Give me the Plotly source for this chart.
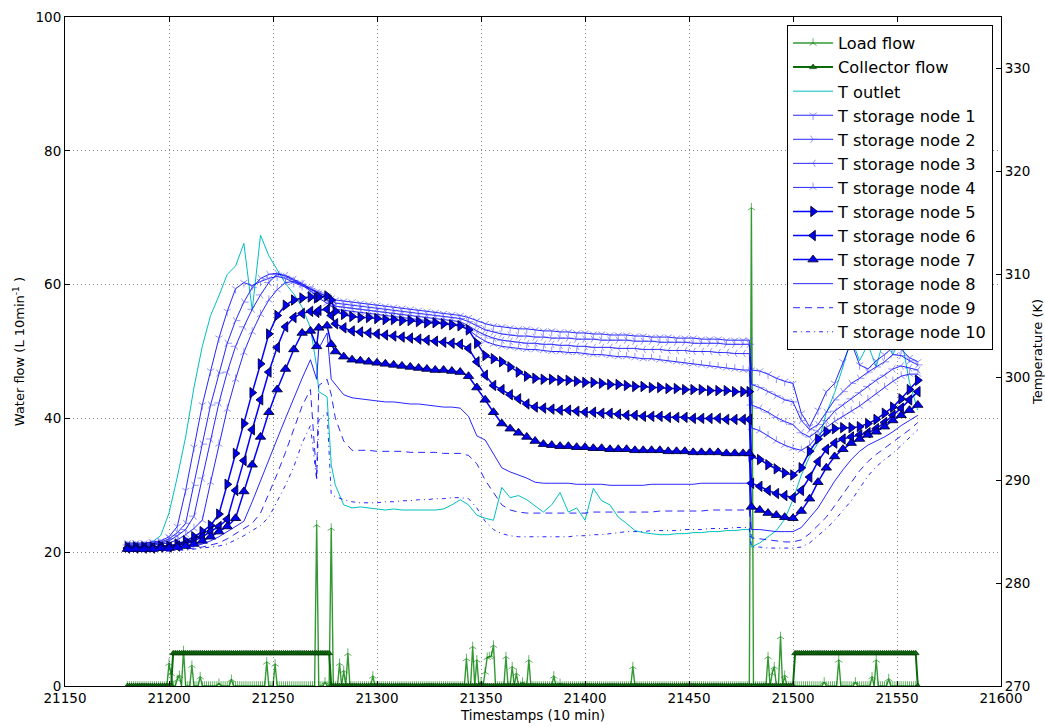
import plotly.graph_objects as go

# ---------------- data ----------------
ts = [21180, 21184, 21188, 21192, 21196, 21200, 21204, 21208, 21212, 21216,
      21220, 21224, 21228, 21232, 21236, 21240, 21244, 21248, 21252, 21256,
      21260, 21264, 21268, 21271, 21272, 21276, 21278,
      21280, 21284, 21288, 21292, 21296, 21300, 21304, 21308, 21312, 21316,
      21320, 21324, 21328, 21332, 21336, 21340, 21344, 21348, 21352, 21356,
      21360, 21364, 21368, 21372, 21376, 21380, 21384, 21388, 21392, 21396,
      21400, 21404, 21408, 21412, 21416, 21420, 21424, 21428, 21432, 21436,
      21440, 21444, 21448, 21452, 21456, 21460, 21464, 21468, 21472, 21476,
      21479, 21480, 21484, 21488, 21492, 21496, 21500, 21504, 21508, 21512,
      21516, 21520, 21524, 21528, 21532, 21536, 21540, 21544, 21548, 21552,
      21556, 21560]

t_outlet = [283.6, 283.7, 283.8, 284.0, 284.6, 286.8, 290.3, 294.2, 299.0, 303.0, 306.0, 307.9, 310.0, 310.8, 313.0, 306.5, 313.8, 311.8, 310.5, 309.1, 308.1, 306.8, 304.8, 301.0, 298.6, 298.1, 291.5,
            289.5, 287.6, 287.3, 287.4, 287.3, 287.2, 287.1, 287.2, 287.1, 287.1, 287.1, 287.1, 287.1, 287.2, 287.6, 288.1, 287.6, 286.6, 286.3, 286.1,
            289.3, 288.3, 288.5, 288.1, 287.5, 286.9, 287.6, 288.8, 286.9, 287.3, 286.1, 289.2, 288.0, 287.6, 286.4, 285.8, 285.1, 284.9, 284.8, 284.7,
            284.7, 284.8, 284.8, 284.9, 284.9, 285.0, 285.0, 285.1, 285.1, 285.2,
            285.2, 283.5, 283.9, 284.5, 285.1, 286.2, 288.1, 290.5, 292.3, 293.6, 296.5, 298.5, 301.0, 303.8, 301.6, 303.2, 301.0, 304.0, 302.2, 303.9, 299.5, 296.8]

node1 = [283.9, 283.9, 283.9, 284.0, 284.1, 284.5, 285.5, 289.0, 293.2, 297.3, 300.6, 303.8, 306.4, 308.6, 309.2, 308.9, 309.3, 309.6, 309.8, 309.6, 309.2, 308.9, 308.6, 308.3, 308.2, 307.9, 307.7,
         307.5, 307.4, 307.3, 307.2, 307.1, 307.0, 306.9, 306.8, 306.7, 306.6, 306.5, 306.4, 306.3, 306.2, 306.1, 306.0, 305.8, 305.5, 305.2, 305.0,
         304.9, 304.8, 304.7, 304.7, 304.6, 304.5, 304.5, 304.4, 304.4, 304.3, 304.3, 304.2, 304.2, 304.1, 304.1, 304.1, 304.0, 304.0, 303.9, 303.9,
         303.9, 303.8, 303.8, 303.8, 303.7, 303.7, 303.7, 303.6, 303.6, 303.6,
         303.6, 300.7, 300.6, 300.3, 299.9, 299.6, 299.4, 296.5, 295.2, 296.8, 298.6, 299.4, 301.5, 303.4, 301.2, 300.8, 301.6, 302.2, 302.9, 302.7, 301.9, 301.5]

node2 = [283.8, 283.8, 283.8, 283.9, 284.0, 284.3, 284.9, 285.8, 289.5, 293.5, 297.3, 300.4, 303.3, 305.5, 307.3, 308.7, 309.6, 310.0, 310.1, 309.8, 309.4, 309.0, 308.6, 308.3, 308.2, 307.8, 307.5,
         307.2, 307.1, 307.0, 306.9, 306.8, 306.7, 306.6, 306.5, 306.4, 306.3, 306.2, 306.1, 306.0, 305.9, 305.8, 305.7, 305.4, 305.0, 304.6, 304.4,
         304.2, 304.1, 304.0, 304.0, 303.9, 303.9, 303.8, 303.8, 303.8, 303.7, 303.7, 303.7, 303.6, 303.6, 303.6, 303.6, 303.5, 303.5, 303.5, 303.4,
         303.4, 303.4, 303.4, 303.3, 303.3, 303.3, 303.3, 303.2, 303.2, 303.2,
         303.2, 299.3, 299.0, 298.6, 298.2, 297.8, 297.6, 295.8, 294.9, 295.4, 296.6, 297.8, 298.6, 299.4, 299.9, 300.5, 301.0, 301.5, 302.2, 302.1, 301.6, 301.2]

node3 = [283.7, 283.7, 283.7, 283.8, 283.9, 284.1, 284.6, 285.2, 286.5, 290.2, 294.0, 297.5, 300.5, 303.0, 304.9, 306.6, 308.0, 309.2, 310.0, 309.9, 309.5, 309.1, 308.6, 308.1, 308.0, 307.5, 307.2,
         306.9, 306.8, 306.7, 306.6, 306.5, 306.4, 306.3, 306.2, 306.1, 306.0, 305.9, 305.8, 305.7, 305.6, 305.5, 305.4, 305.0, 304.5, 304.1, 303.8,
         303.6, 303.5, 303.4, 303.3, 303.3, 303.2, 303.2, 303.1, 303.1, 303.0, 303.0, 302.9, 302.9, 302.9, 302.8, 302.8, 302.8, 302.7, 302.7, 302.7,
         302.6, 302.6, 302.6, 302.5, 302.5, 302.5, 302.4, 302.4, 302.3, 302.3,
         302.3, 297.3, 297.0, 296.6, 296.1, 295.7, 295.4, 294.6, 294.2, 294.8, 295.8, 296.7, 297.3, 297.9, 298.5, 299.1, 299.7, 300.2, 300.8, 301.1, 300.9, 300.7]

node4 = [283.6, 283.6, 283.6, 283.7, 283.8, 283.9, 284.2, 284.7, 285.3, 286.1, 289.8, 293.5, 296.9, 299.8, 302.4, 304.4, 306.1, 307.5, 308.5, 309.2, 309.3, 309.0, 308.4, 307.9, 307.7, 307.2, 306.9,
         306.6, 306.5, 306.4, 306.3, 306.2, 306.1, 306.0, 305.9, 305.8, 305.7, 305.6, 305.5, 305.4, 305.3, 305.2, 305.1, 304.6, 304.0, 303.5, 303.2,
         303.0, 302.9, 302.8, 302.7, 302.7, 302.6, 302.5, 302.5, 302.4, 302.4, 302.3, 302.2, 302.2, 302.1, 302.0, 302.0, 301.9, 301.8, 301.8, 301.7,
         301.6, 301.5, 301.4, 301.3, 301.2, 301.1, 301.0, 300.9, 300.8, 300.7,
         300.7, 295.1, 294.8, 294.3, 293.8, 293.4, 293.1, 292.9, 293.4, 294.3, 295.1, 295.7, 296.2, 296.7, 297.2, 297.8, 298.4, 299.0, 299.6, 300.1, 300.3, 300.3]

node5 = [283.5, 283.5, 283.5, 283.5, 283.6, 283.6, 283.8, 284.1, 284.5, 285.0, 285.6, 286.7, 289.6, 292.6, 295.5, 298.5, 301.3, 304.2, 306.0, 307.0, 307.5, 307.7, 307.8, 307.7, 307.8, 307.9, 307.5,
         306.4, 306.1, 305.9, 305.8, 305.8, 305.7, 305.6, 305.6, 305.5, 305.5, 305.4, 305.3, 305.3, 305.2, 305.1, 305.0, 304.6, 303.3, 302.1, 301.8,
         301.5, 301.0, 300.5, 300.1, 299.9, 299.8, 299.8, 299.7, 299.7, 299.6, 299.5, 299.5, 299.4, 299.3, 299.3, 299.2, 299.1, 299.1, 299.0, 299.0,
         298.9, 298.9, 298.8, 298.8, 298.8, 298.7, 298.7, 298.7, 298.6, 298.6,
         298.6, 292.3, 292.0, 291.5, 291.1, 290.7, 290.5, 291.2, 292.8, 294.0, 294.7, 295.0, 295.1, 295.1, 295.2, 295.5, 295.9, 296.5, 297.1, 297.9, 298.8, 299.7]

node6 = [283.4, 283.4, 283.4, 283.4, 283.5, 283.5, 283.6, 283.8, 284.1, 284.5, 285.0, 285.5, 286.2, 289.0, 291.9, 294.9, 297.8, 300.5, 302.9, 304.9, 305.8, 306.2, 306.4, 306.3, 306.5, 306.6, 306.0,
         305.2, 304.8, 304.5, 304.4, 304.3, 304.2, 304.1, 304.0, 303.9, 303.8, 303.7, 303.6, 303.5, 303.4, 303.3, 303.2, 302.8, 301.5, 300.2, 299.2,
         298.8, 298.3, 297.9, 297.4, 297.1, 297.0, 296.9, 296.8, 296.8, 296.7, 296.6, 296.6, 296.5, 296.5, 296.4, 296.3, 296.3, 296.2, 296.2, 296.2,
         296.1, 296.1, 296.1, 296.0, 296.0, 296.0, 296.0, 295.9, 295.9, 295.9,
         295.9, 289.7, 289.4, 289.0, 288.7, 288.5, 288.3, 289.0, 290.3, 291.8, 293.0, 293.6, 294.0, 294.2, 294.4, 294.6, 295.0, 295.6, 296.3, 297.0, 297.8, 298.6]

node7 = [283.3, 283.3, 283.3, 283.3, 283.4, 283.4, 283.5, 283.6, 283.8, 284.1, 284.5, 285.0, 285.5, 286.3, 288.9, 291.5, 294.2, 296.6, 298.8, 300.8, 302.7, 304.3, 304.5, 303.0, 304.8, 305.0, 303.2,
         302.5, 302.0, 301.7, 301.6, 301.5, 301.4, 301.3, 301.2, 301.1, 301.0, 300.9, 300.8, 300.7, 300.7, 300.6, 300.5, 300.1, 299.0, 297.8, 296.6,
         295.5, 295.0, 294.6, 294.2, 293.8, 293.5, 293.4, 293.3, 293.3, 293.2, 293.2, 293.1, 293.1, 293.0, 293.0, 293.0, 292.9, 292.9, 292.9, 292.9,
         292.8, 292.8, 292.8, 292.7, 292.7, 292.7, 292.7, 292.6, 292.6, 292.6,
         292.6, 287.4, 287.1, 286.8, 286.6, 286.4, 286.3, 287.0, 288.2, 289.8, 291.2, 292.3, 293.0, 293.6, 294.0, 294.4, 294.7, 295.2, 295.8, 296.3, 296.8, 297.3]

node8 = [283.3, 283.3, 283.3, 283.3, 283.3, 283.3, 283.4, 283.5, 283.6, 283.8, 284.1, 284.5, 285.0, 285.5, 286.0, 287.9, 290.0, 292.0, 294.0, 296.0, 298.0, 299.9, 301.7, 299.8, 302.8, 304.3, 299.8,
         299.3, 298.3, 298.0, 297.9, 297.8, 297.7, 297.6, 297.6, 297.5, 297.4, 297.4, 297.3, 297.2, 297.1, 297.1, 297.0, 296.2, 294.3, 293.9, 292.5,
         291.2, 290.8, 290.5, 290.2, 289.8, 289.7, 289.7, 289.7, 289.7, 289.6, 289.6, 289.6, 289.6, 289.5, 289.5, 289.5, 289.5, 289.5, 289.6, 289.6,
         289.6, 289.6, 289.6, 289.6, 289.7, 289.7, 289.7, 289.7, 289.7, 289.7,
         289.7, 285.2, 285.2, 285.1, 285.0, 285.0, 285.0, 285.4, 286.3, 287.3, 288.6, 289.9, 291.0, 292.0, 292.8, 293.4, 293.8, 294.2, 294.7, 295.3, 295.8, 296.3]

node9 = [283.2, 283.2, 283.2, 283.2, 283.2, 283.2, 283.3, 283.3, 283.4, 283.5, 283.7, 283.9, 284.3, 284.8, 285.3, 285.8, 286.8, 288.7, 290.6, 292.7, 295.0, 297.2, 298.8, 290.2, 299.2, 299.8, 298.3,
         296.0, 293.8, 292.9, 292.9, 292.9, 292.8, 292.8, 292.8, 292.8, 292.7, 292.7, 292.7, 292.7, 292.6, 292.6, 292.6, 292.4, 291.6, 290.0, 288.8,
         287.6, 287.1, 286.9, 286.8, 286.8, 286.8, 286.8, 286.8, 286.8, 286.8, 286.8, 286.9, 286.9, 286.9, 286.9, 286.9, 286.9, 286.9, 286.9, 287.0,
         287.0, 287.0, 287.0, 287.0, 287.0, 287.1, 287.1, 287.1, 287.1, 287.1,
         287.1, 284.4, 284.3, 284.2, 284.1, 284.0, 284.0, 284.2, 284.8, 285.6, 286.4, 287.5, 288.6, 289.8, 290.9, 291.8, 292.5, 293.1, 293.7, 294.3, 294.9, 295.6]

node10 = [283.1, 283.1, 283.1, 283.1, 283.1, 283.1, 283.2, 283.2, 283.3, 283.4, 283.5, 283.6, 283.8, 284.2, 284.6, 285.1, 285.6, 286.4, 287.9, 289.5, 291.3, 293.6, 295.3, 290.0, 295.8, 296.6, 288.6,
          288.4, 288.1, 287.9, 287.8, 287.8, 287.8, 287.9, 287.9, 288.0, 288.0, 288.1, 288.1, 288.2, 288.2, 288.3, 288.3, 288.2, 287.3, 286.0, 285.2,
          284.8, 284.6, 284.5, 284.5, 284.5, 284.5, 284.5, 284.5, 284.5, 284.6, 284.6, 284.7, 284.7, 284.8, 284.9, 285.0, 285.0, 285.0, 285.1, 285.1,
          285.1, 285.1, 285.2, 285.2, 285.2, 285.3, 285.3, 285.3, 285.4, 285.4,
          285.4, 283.5, 283.5, 283.4, 283.4, 283.4, 283.4, 283.5, 283.9, 284.6, 285.3, 286.1, 287.0, 288.0, 289.2, 290.4, 291.3, 292.0, 292.6, 293.4, 294.2, 294.9]

# water flows on a 1-step timestamp grid: load flow is zero except these spikes
flow_start, flow_end = 21180, 21560
load_spike_ts = [21200, 21201, 21204, 21205, 21207, 21211, 21215, 21224, 21230, 21247,
                 21251, 21271, 21275, 21278, 21282, 21284, 21286, 21298, 21343, 21346,
                 21348, 21350, 21352, 21353, 21354, 21355, 21356, 21362, 21365, 21367,
                 21370, 21373, 21385, 21388, 21423, 21480, 21488, 21490, 21491, 21494,
                 21496, 21515, 21522, 21530, 21538, 21540, 21546]
load_spike_vals = [3.4, 1.9, 1.0, 1.6, 5.3, 3.1, 1.4, 0.4, 1.0, 3.6,
                   3.3, 24.1, 0.6, 23.6, 3.4, 2.3, 4.9, 1.5, 4.1, 5.9,
                   3.9, 0.6, 2.1, 4.3, 4.4, 4.5, 6.1, 4.4, 2.9, 1.9,
                   0.6, 3.9, 1.5, 0.4, 2.9, 71.5, 4.4, 1.9, 2.9, 7.4,
                   1.6, 0.6, 3.9, 0.6, 1.4, 3.9, 1.1]
# collector pump: on (level) during these periods, zero otherwise
collector_on = [(21202, 21277), (21501, 21559)]
collector_level = 4.9

temps = [node1, node2, node3, node4, node5, node6, node7, node8, node9, node10, t_outlet]
for s in temps:
    assert len(s) == len(ts), len(s)
assert len(load_spike_ts) == len(load_spike_vals)

flow_ts = list(range(flow_start, flow_end + 1))
load_flow = [0.0] * len(flow_ts)
for t, v in zip(load_spike_ts, load_spike_vals):
    load_flow[t - flow_start] = v
collector_flow = [collector_level if any(a <= t <= b for a, b in collector_on) else 0.0
                  for t in flow_ts]

# ---------------- figure ----------------
FONT = "DejaVu Sans"
fig = go.Figure()

fig.add_trace(go.Scatter(
    x=flow_ts, y=load_flow, name="Load flow", mode="lines+markers",
    line=dict(color="rgba(0,128,0,0.8)", width=1.4),
    marker=dict(symbol="y-up", size=6, color="rgba(0,128,0,0.6)",
                line=dict(color="rgba(0,128,0,0.6)", width=1)),
    yaxis="y"))
fig.add_trace(go.Scatter(
    x=flow_ts, y=collector_flow, name="Collector flow", mode="lines+markers",
    line=dict(color="#0b6b0b", width=2),
    marker=dict(symbol="triangle-up", size=6, color="#0d6e0d",
                line=dict(color="#033303", width=0.6)),
    yaxis="y"))

fig.add_trace(go.Scatter(
    x=ts, y=t_outlet, name="T outlet", mode="lines",
    line=dict(color="#00bfbf", width=1), yaxis="y2"))

thin_sym = ["y-down", "y-right", "y-left", "y-up"]
for i, (s, sym) in enumerate(zip([node1, node2, node3, node4], thin_sym)):
    fig.add_trace(go.Scatter(
        x=ts, y=s, name=f"T storage node {i+1}", mode="lines+markers",
        line=dict(color="rgba(0,0,255,0.85)", width=1),
        marker=dict(symbol=sym, size=6, color="rgba(80,80,255,0.6)",
                    line=dict(color="rgba(80,80,255,0.6)", width=1)),
        yaxis="y2"))

thick_sym = ["triangle-right", "triangle-left", "triangle-up"]
for i, (s, sym) in enumerate(zip([node5, node6, node7], thick_sym)):
    fig.add_trace(go.Scatter(
        x=ts, y=s, name=f"T storage node {i+5}", mode="lines+markers",
        line=dict(color="#0000ff", width=1.5),
        marker=dict(symbol=sym, size=9, color="#0000ee",
                    line=dict(color="#000033", width=0.9)),
        yaxis="y2"))

for s, name, dash in [(node8, "T storage node 8", "solid"),
                      (node9, "T storage node 9", "7px,5px"),
                      (node10, "T storage node 10", "4px,4px,1px,4px")]:
    fig.add_trace(go.Scatter(
        x=ts, y=s, name=name, mode="lines",
        line=dict(color="rgba(0,0,255,0.85)", width=1, dash=dash), yaxis="y2"))

axis_font = dict(family=FONT, size=13.5, color="black")
grid_kw = dict(showgrid=True, gridcolor="#8a8a8a", griddash="1px,3px", gridwidth=1)
fig.update_layout(
    width=1045, height=726,
    margin=dict(l=65, r=44, t=17, b=40),
    paper_bgcolor="white", plot_bgcolor="white",
    font=axis_font,
    showlegend=True,
    legend=dict(x=0.9915, y=0.988, xanchor="right", yanchor="top",
                bgcolor="white", bordercolor="black", borderwidth=1,
                itemwidth=40,
                font=dict(family=FONT, size=16.2, color="black")),
    xaxis=dict(range=[21150, 21600], tickmode="array",
               tickvals=[21150, 21200, 21250, 21300, 21350, 21400, 21450, 21500, 21550, 21600],
               tickformat="d", ticks="inside", ticklen=5, tickcolor="black",
               showline=True, linecolor="black", linewidth=1, mirror="ticks",
               zeroline=False, automargin=False,
               title=dict(text="Timestamps (10 min)", standoff=5, font=axis_font),
               **grid_kw),
    yaxis=dict(range=[0, 100], tickmode="array", tickvals=[0, 20, 40, 60, 80, 100],
               ticks="inside", ticklen=5, tickcolor="black",
               showline=True, linecolor="black", linewidth=1,
               zeroline=False, automargin=False,
               title=dict(text="Water flow (L 10min<sup>-1</sup> )", standoff=7,
                          font=dict(family=FONT, size=13, color="black")),
               **grid_kw),
    yaxis2=dict(range=[270, 335], overlaying="y", side="right",
                tickmode="array", tickvals=[270, 280, 290, 300, 310, 320, 330],
                ticks="inside", ticklen=5, tickcolor="black",
                showline=True, linecolor="black", linewidth=1,
                showgrid=False, zeroline=False, automargin=False,
                title=dict(text="Temperature (K)", standoff=8,
                           font=dict(family=FONT, size=13, color="black"))),
)

fig.write_html("out.html")
